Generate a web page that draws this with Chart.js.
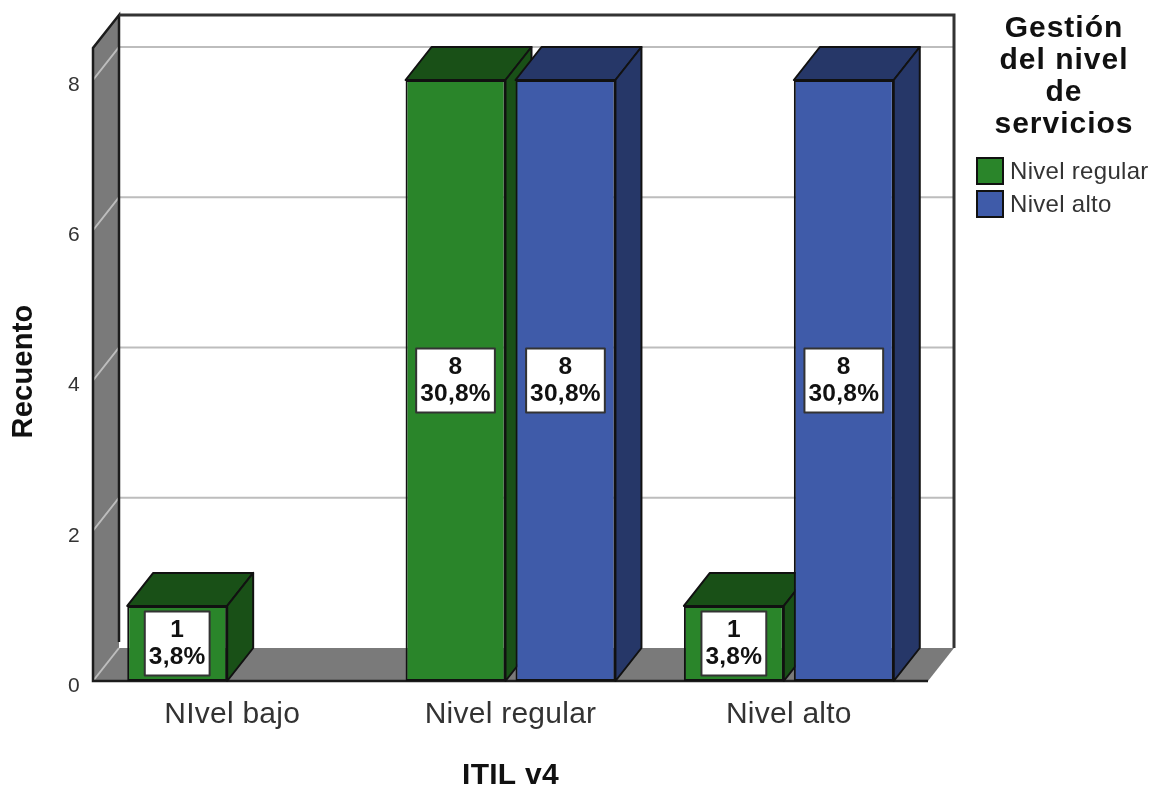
<!DOCTYPE html>
<html>
<head>
<meta charset="utf-8">
<title>Recuento por ITIL v4</title>
<script src="https://cdn.jsdelivr.net/npm/chart.js@4"></script>
<style>
    body { margin: 0; background: #fff; }
    canvas { display: block; }
</style>
</head>
<body>
<canvas id="barChart" width="1153" height="787"></canvas>
<script>
const categories = ['NIvel bajo', 'Nivel regular', 'Nivel alto'];
const yTicks = [0, 2, 4, 6, 8];
const regularCounts = [1, 8, 1];
const altoCounts = [null, 8, 8];
const regularPercents = ['3,8%', '30,8%', '3,8%'];
const altoPercents = [null, '30,8%', '30,8%'];
const legendTitle = ['Gestión', 'del nivel', 'de', 'servicios'];

// depth of the fake 3D box, in pixels
const depthX = 26;
const depthY = 33;
const edgeColor = '#111';
const fontName = '"Liberation Sans", Arial, sans-serif';

function polygon(ctx, points, fill, stroke) {
    ctx.beginPath();
    points.forEach(function(p, i) {
        if (i === 0) ctx.moveTo(p[0], p[1]);
        else ctx.lineTo(p[0], p[1]);
    });
    ctx.closePath();
    ctx.fillStyle = fill;
    ctx.fill();
    if (stroke) {
        ctx.strokeStyle = stroke;
        ctx.lineWidth = 2;
        ctx.lineJoin = 'round';
        ctx.stroke();
    }
}

function drawWalls(chart) {
    const ctx = chart.ctx;
    const area = chart.chartArea;
    const y = chart.scales.y;
    const backLeft = area.left + depthX;
    const backRight = area.right + depthX;
    const backTop = area.top - depthY;
    const backBottom = area.bottom - depthY;

    polygon(ctx, [[area.left, area.top], [backLeft, backTop], [backLeft, backBottom], [area.left, area.bottom]], '#7a7a7a');
    polygon(ctx, [[area.left, area.bottom], [backLeft, backBottom], [backRight, backBottom], [area.right, area.bottom]], '#7a7a7a');

    // gridlines run across the back wall and down the left wall
    ctx.strokeStyle = '#bdbdbd';
    ctx.lineWidth = 2;
    y.ticks.forEach(function(tick) {
        const py = y.getPixelForValue(tick.value);
        ctx.beginPath();
        ctx.moveTo(area.left, py);
        ctx.lineTo(backLeft, py - depthY);
        if (tick.value > 0) ctx.lineTo(backRight, py - depthY);
        ctx.stroke();
    });

    ctx.strokeStyle = '#1c1c1c';
    ctx.lineWidth = 2.5;
    ctx.beginPath();
    ctx.moveTo(backLeft, backBottom - 6);
    ctx.lineTo(backLeft, backTop);
    ctx.lineTo(area.left, area.top);
    ctx.lineTo(area.left, area.bottom);
    ctx.lineTo(area.right, area.bottom);
    ctx.stroke();

    ctx.strokeStyle = '#333';
    ctx.lineWidth = 3;
    ctx.beginPath();
    ctx.moveTo(backLeft, backTop);
    ctx.lineTo(backRight, backTop);
    ctx.lineTo(backRight, backBottom);
    ctx.stroke();
}

// top and side faces of each bar in a dataset
function drawDepth(chart, meta, dark) {
    const ctx = chart.ctx;
    meta.data.forEach(function(bar, i) {
        if (meta._parsed[i].y === null) return;
        const props = bar.getProps(['x', 'y', 'base', 'width']);
        const x0 = props.x - props.width / 2;
        const x1 = props.x + props.width / 2;
        polygon(ctx, [[x0, props.y], [x0 + depthX, props.y - depthY], [x1 + depthX, props.y - depthY], [x1, props.y]], dark, edgeColor);
        polygon(ctx, [[x1, props.y], [x1 + depthX, props.y - depthY], [x1 + depthX, props.base - depthY], [x1, props.base]], dark, edgeColor);
    });
}

function drawValueBoxes(chart) {
    const ctx = chart.ctx;
    ctx.font = 'bold 24.5px ' + fontName;
    ctx.textAlign = 'center';
    ctx.textBaseline = 'middle';
    chart.data.datasets.forEach(function(dataset, d) {
        chart.getDatasetMeta(d).data.forEach(function(bar, i) {
            const value = dataset.data[i];
            if (value === null) return;
            const props = bar.getProps(['x', 'y', 'base']);
            const cy = (props.y + props.base) / 2;
            const percent = dataset.percents[i];
            const w = ctx.measureText(percent).width + 8;
            ctx.fillStyle = '#fff';
            ctx.strokeStyle = '#333';
            ctx.lineWidth = 2;
            ctx.fillRect(props.x - w / 2, cy - 32, w, 64);
            ctx.strokeRect(props.x - w / 2, cy - 32, w, 64);
            ctx.fillStyle = '#111';
            ctx.fillText(String(value), props.x, cy - 13);
            ctx.fillText(percent, props.x, cy + 14);
        });
    });
}

// legend to the right of the plot, the stock one can't take a wrapped title
function drawLegend(chart) {
    const ctx = chart.ctx;
    ctx.save();
    ctx.textBaseline = 'middle';
    ctx.letterSpacing = '1px';
    ctx.textAlign = 'center';
    ctx.fillStyle = '#111';
    ctx.font = 'bold 30px ' + fontName;
    legendTitle.forEach(function(line, i) {
        ctx.fillText(line, 1064, 29 + i * 32);
    });
    ctx.letterSpacing = '0.3px';
    ctx.textAlign = 'left';
    ctx.font = '24px ' + fontName;
    chart.data.datasets.forEach(function(dataset, i) {
        const top = 158 + i * 33;
        ctx.fillStyle = dataset.backgroundColor;
        ctx.strokeStyle = edgeColor;
        ctx.lineWidth = 2;
        ctx.fillRect(977, top, 26, 26);
        ctx.strokeRect(977, top, 26, 26);
        ctx.fillStyle = '#333';
        ctx.fillText(dataset.label, 1010, top + 14);
    });
    ctx.restore();
}

const boxPlugin = {
    id: 'box3d',
    afterLayout: function(chart) {
        // axis title sits a little under the middle of the plot
        chart.scales.y.bottom += 14;
    },
    beforeDraw: function(chart) {
        chart.ctx.letterSpacing = '0.25px';
    },
    // Chart.js paints the first dataset last, here the right-hand bars have to overlap the left ones
    beforeDatasetsDraw: function(chart) {
        const ctx = chart.ctx;
        ctx.save();
        drawWalls(chart);
        chart.data.datasets.forEach(function(dataset, d) {
            const meta = chart.getDatasetMeta(d);
            drawDepth(chart, meta, dataset.depthColor);
            meta.controller.draw();
        });
        drawValueBoxes(chart);
        ctx.restore();
    },
    beforeDatasetDraw: function() {
        return false;
    },
    afterDraw: drawLegend
};

Chart.defaults.font.family = fontName;

new Chart(document.getElementById('barChart').getContext('2d'), {
    type: 'bar',
    data: {
        labels: categories,
        datasets: [
            {
                label: 'Nivel regular',
                data: regularCounts,
                percents: regularPercents,
                backgroundColor: '#2a852a',
                borderColor: edgeColor,
                depthColor: '#195017',
                borderWidth: 2,
                borderSkipped: false
            },
            {
                label: 'Nivel alto',
                data: altoCounts,
                percents: altoPercents,
                backgroundColor: '#3f5ba9',
                borderColor: edgeColor,
                depthColor: '#263768',
                borderWidth: 2,
                borderSkipped: false
            }
        ]
    },
    options: {
        responsive: false,
        animation: false,
        categoryPercentage: 0.79,
        barPercentage: 0.909,
        layout: { padding: { top: 48, right: 225 } },
        plugins: {
            tooltip: { enabled: false },
            legend: { display: false }
        },
        scales: {
            x: {
                grid: { display: false },
                border: { display: false },
                ticks: { color: '#333', padding: 8, maxRotation: 0, autoSkip: false, font: { size: 30 } },
                title: {
                    display: true,
                    text: 'ITIL v4',
                    color: '#111',
                    font: { size: 30, weight: 'bold', lineHeight: 1 },
                    padding: { top: 0, bottom: -4 }
                },
                afterFit: function(scale) { scale.height = 106; }
            },
            y: {
                min: 0,
                max: 8.426,
                grid: { display: false },
                border: { display: false },
                ticks: { color: '#333', padding: 5, labelOffset: 5, includeBounds: false, font: { size: 21 } },
                afterBuildTicks: function(scale) {
                    scale.ticks = yTicks.map(function(v) { return { value: v }; });
                },
                title: {
                    display: true,
                    text: 'Recuento',
                    color: '#111',
                    font: { size: 29, weight: 'bold', lineHeight: 1 },
                    padding: { top: 9 }
                },
                afterFit: function(scale) { scale.width = 93; }
            }
        }
    },
    plugins: [boxPlugin]
});
</script>
</body>
</html>
